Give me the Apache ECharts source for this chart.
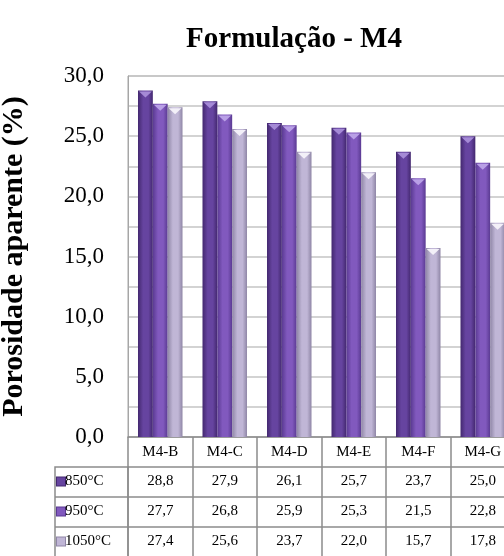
<!DOCTYPE html>
<html>
<head>
<meta charset="utf-8">
<script src="https://cdn.jsdelivr.net/npm/echarts@6/dist/echarts.min.js"></script>
<style>
  html, body { margin: 0; padding: 0; background: #fff; }
  #chart { width: 504px; height: 556px; }
</style>
</head>
<body>
<div id="chart"></div>
<script>
// dados
const categories = ['M4-B', 'M4-C', 'M4-D', 'M4-E', 'M4-F', 'M4-G'];
const seriesNames = ['850°C', '950°C', '1050°C'];
const v850 = [28.8, 27.9, 26.1, 25.7, 23.7, 25.0];
const v950 = [27.7, 26.8, 25.9, 25.3, 21.5, 22.8];
const v1050 = [27.4, 25.6, 23.7, 22.0, 15.7, 17.8];
const yTicks = [0, 5, 10, 15, 20, 25, 30];

const serif = "'Liberation Serif', 'Times New Roman', serif";
const lineGrey = '#8c8c8c';

// cores: [borda escura, centro, topo]
const palette = [
  ['#43286f', '#6644a0', '#a58ad6'],
  ['#5a3a92', '#8159be', '#b9a0e6'],
  ['#8f86a6', '#c0b6d6', '#f3f0f8']
];
const allValues = [v850, v950, v1050];

function fmt(v) {
  return v.toFixed(1).replace('.', ',');
}

function barRenderer(k) {
  return function (params, api) {
    const idx = api.value(0);
    const val = api.value(1);
    const base = api.coord([idx, 0]);
    const top = api.coord([idx, val]);
    const band = api.size([1, 0])[0];
    const bw = band * 0.23;
    const x = base[0] - bw * 1.5 + k * bw;
    const c = palette[k];
    const tip = 7;
    return {
      type: 'group',
      children: [
        {
          type: 'rect',
          shape: { x: x, y: top[1], width: bw, height: base[1] - top[1] },
          style: {
            fill: new echarts.graphic.LinearGradient(0, 0, 1, 0, [
              { offset: 0, color: c[0] },
              { offset: 0.35, color: c[1] },
              { offset: 0.7, color: c[1] },
              { offset: 1, color: c[0] }
            ])
          }
        },
        {
          type: 'polygon',
          shape: { points: [[x + 1, top[1] + 1], [x + bw - 1, top[1] + 1], [x + bw / 2, top[1] + tip]] },
          style: { fill: c[2] }
        }
      ]
    };
  };
}

const chart = echarts.init(document.getElementById('chart'));

const rowAxes = seriesNames.map(function (name, k) {
  return {
    type: 'category',
    gridIndex: 0,
    position: 'bottom',
    offset: 30 * (k + 1),
    data: categories,
    axisLine: { show: true, lineStyle: { color: lineGrey, width: 1.5 } },
    axisTick: { show: true, length: 30, interval: 0, lineStyle: { color: lineGrey, width: 1.5 } },
    axisLabel: {
      interval: 0,
      margin: 7,
      fontFamily: serif,
      fontSize: 15,
      color: '#000',
      formatter: function (v, i) { return fmt(allValues[k][i]); }
    },
    name: '{m|}' + name,
    nameLocation: 'start',
    nameGap: 71,
    nameTextStyle: {
      align: 'left',
      verticalAlign: 'top',
      padding: [7, 0, 0, 0],
      fontFamily: serif,
      fontSize: 15,
      color: '#000',
      rich: {
        m: {
          width: 8,
          height: 8,
          backgroundColor: palette[k][1],
          borderColor: palette[k][0],
          borderWidth: 1
        }
      }
    }
  };
});

chart.setOption({
  animation: false,
  backgroundColor: '#fff',
  title: {
    text: 'Formulação - M4',
    left: 289,
    top: 20,
    textAlign: 'center',
    textStyle: { fontFamily: serif, fontSize: 29, fontWeight: 'bold', color: '#000' }
  },
  grid: {
    left: 128,
    top: 76,
    right: -11,
    bottom: 119,
    outerBoundsMode: 'none',
    show: true,
    borderColor: '#a6a6a6',
    borderWidth: 1
  },
  xAxis: [
    {
      type: 'category',
      position: 'bottom',
      data: categories,
      axisLine: { show: true, lineStyle: { color: lineGrey, width: 1.5 } },
      axisTick: { show: true, length: 30, interval: 0, lineStyle: { color: lineGrey, width: 1.5 } },
      axisLabel: { interval: 0, margin: 8, fontFamily: serif, fontSize: 15, color: '#000' }
    }
  ].concat(rowAxes),
  yAxis: {
    type: 'value',
    min: 0,
    max: 30,
    interval: 2.5,
    name: 'Porosidade aparente (%)',
    nameLocation: 'middle',
    nameGap: 99,
    nameTextStyle: { fontFamily: serif, fontSize: 30, fontWeight: 'bold', color: '#000' },
    axisLine: { show: true, lineStyle: { color: '#a6a6a6' } },
    axisTick: { show: false },
    axisLabel: {
      margin: 24,
      fontFamily: serif,
      fontSize: 23,
      color: '#000',
      formatter: function (v) {
        return yTicks.indexOf(v) >= 0 ? fmt(v) : '';
      }
    },
    splitLine: { lineStyle: { color: '#c4c4c4', width: 1.5 } }
  },
  graphic: [
    {
      type: 'rect',
      shape: { x: 55, y: 467, width: 73, height: 92 },
      style: { fill: 'none', stroke: lineGrey, lineWidth: 1.5 }
    },
    { type: 'line', shape: { x1: 55, y1: 497, x2: 128, y2: 497 }, style: { stroke: lineGrey, lineWidth: 1.5 } },
    { type: 'line', shape: { x1: 55, y1: 527, x2: 128, y2: 527 }, style: { stroke: lineGrey, lineWidth: 1.5 } }
  ],
  series: seriesNames.map(function (name, k) {
    return {
      type: 'custom',
      name: name,
      xAxisIndex: 0,
      yAxisIndex: 0,
      renderItem: barRenderer(k),
      data: allValues[k].map(function (v, i) { return [i, v]; })
    };
  })
});
</script>
</body>
</html>
